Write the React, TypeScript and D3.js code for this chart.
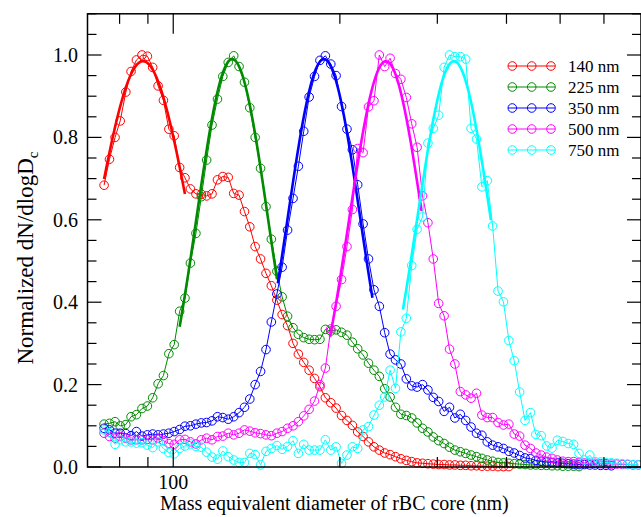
import React, { useRef, useEffect } from 'react';
import * as d3 from 'd3';

// bin mid diameters (nm), shared by all five size selections
const diameters = [
  75.0, 76.7, 78.5, 80.2, 82.1, 83.9, 85.8, 87.8, 89.8, 91.8,
  93.9, 96.0, 98.2, 100.4, 102.7, 105.0, 107.4, 109.9, 112.4, 114.9,
  117.5, 120.2, 122.9, 125.7, 128.6, 131.5, 134.5, 137.5, 140.6, 143.8,
  147.1, 150.4, 153.9, 157.3, 160.9, 164.6, 168.3, 172.1, 176.0, 180.0,
  184.1, 188.3, 192.6, 196.9, 201.4, 206.0, 210.7, 215.4, 220.3, 225.3,
  230.5, 235.7, 241.0, 246.5, 252.1, 257.8, 263.7, 269.7, 275.8, 282.1,
  288.5, 295.0, 301.7, 308.6, 315.6, 322.7, 330.1, 337.6, 345.2, 353.1,
  361.1, 369.3, 377.6, 386.2, 395.0, 404.0, 413.1, 422.5, 432.1, 441.9,
  451.9, 462.2, 472.7, 483.4, 494.4, 505.6, 517.1, 528.9, 540.9, 553.1,
  565.7, 578.5, 591.7, 605.1, 618.9, 632.9, 647.3, 662.0, 677.0, 692.4,
];

const red140 = [
  0.684, 0.747, 0.80, 0.84, 0.91, 0.96, 0.988, 1.0, 0.997, 0.97,
  0.925, 0.89, 0.82, 0.804, 0.727, 0.702, 0.675, 0.663, 0.662, 0.658,
  0.663, 0.697, 0.705, 0.703, 0.664, 0.66, 0.62, 0.583, 0.535, 0.505,
  0.47, 0.44, 0.405, 0.37, 0.343, 0.30, 0.274, 0.254, 0.235, 0.215,
  0.195, 0.168, 0.156, 0.143, 0.125, 0.113, 0.101, 0.085, 0.074, 0.061,
  0.049, 0.041, 0.034, 0.03, 0.025, 0.02, 0.016, 0.013, 0.01, 0.009,
  0.008, 0.007, 0.006, 0.006, 0.005, 0.005, 0.004, 0.004, 0.003, 0.003,
  0.002, 0.002, 0.002, 0.001, 0.001, 0.001,
];

const green225 = [
  0.104, 0.106, 0.11, 0.10, 0.103, 0.122, 0.127, 0.142, 0.148, 0.168,
  0.202, 0.222, 0.275, 0.297, 0.378, 0.41, 0.495, 0.567, 0.656, 0.745,
  0.83, 0.893, 0.948, 0.982, 0.998, 0.972, 0.934, 0.872, 0.80, 0.725,
  0.632, 0.553, 0.475, 0.413, 0.366, 0.338, 0.322, 0.314, 0.31, 0.309,
  0.31, 0.334, 0.33, 0.333, 0.327, 0.32, 0.303, 0.287, 0.272, 0.252,
  0.235, 0.22, 0.19, 0.17, 0.145, 0.128, 0.125, 0.119, 0.107, 0.094,
  0.085, 0.073, 0.064, 0.057, 0.048, 0.041, 0.037, 0.033, 0.029, 0.025,
  0.021, 0.017, 0.014, 0.011, 0.01, 0.009, 0.008, 0.007, 0.006, 0.005,
  0.005, 0.004, 0.004, 0.003, 0.003, 0.002, 0.002, 0.002, 0.001,
];

const blue350 = [
  0.094, 0.09, 0.082, 0.082, 0.081, 0.076, 0.086, 0.075, 0.078, 0.08,
  0.078, 0.08, 0.082, 0.086, 0.091, 0.099, 0.1, 0.104, 0.107, 0.108,
  0.112, 0.122, 0.12, 0.116, 0.122, 0.132, 0.145, 0.165, 0.2, 0.232,
  0.285, 0.352, 0.42, 0.485, 0.575, 0.652, 0.73, 0.815, 0.898, 0.948,
  0.987, 0.998, 0.978, 0.95, 0.875, 0.82, 0.77, 0.685, 0.59, 0.505,
  0.43, 0.39, 0.326, 0.274, 0.26, 0.25, 0.214, 0.197, 0.194, 0.2,
  0.187, 0.169, 0.159, 0.135, 0.145, 0.119, 0.128, 0.113, 0.097, 0.082,
  0.077, 0.061, 0.053, 0.049, 0.045, 0.038, 0.034, 0.028, 0.022, 0.02,
  0.016, 0.014, 0.012, 0.011, 0.01, 0.009, 0.008, 0.007, 0.006, 0.006,
  0.005, 0.005, 0.004, 0.004, 0.003,
];

const magenta500 = [
  0.082, 0.074, 0.07, 0.074, 0.07, 0.066, 0.066, 0.066, 0.067, 0.066,
  0.07, 0.064, 0.057, 0.055, 0.066, 0.067, 0.061, 0.056, 0.066, 0.07,
  0.066, 0.074, 0.075, 0.082, 0.078, 0.082, 0.09, 0.087, 0.083, 0.081,
  0.078, 0.076, 0.082, 0.086, 0.094, 0.1, 0.11, 0.124, 0.14, 0.16,
  0.2, 0.24, 0.335, 0.39, 0.455, 0.535, 0.625, 0.773, 0.763, 0.874,
  0.889, 1.0, 0.972, 0.992, 0.955, 0.941, 0.897, 0.833, 0.776, 0.658,
  0.593, 0.505, 0.397, 0.367, 0.286, 0.25, 0.183, 0.175, 0.167, 0.179,
  0.126, 0.12, 0.12, 0.108, 0.102, 0.104, 0.08, 0.075, 0.053, 0.045,
  0.034, 0.029, 0.024, 0.021, 0.017, 0.014, 0.013, 0.013, 0.011, 0.01,
  0.009, 0.009, 0.008, 0.008, 0.007, 0.007, 0.006, 0.006, 0.005, 0.005,
];

const cyan750 = [
  0.09, 0.083, 0.055, 0.066, 0.061, 0.061, 0.058, 0.059, 0.053, 0.047,
  0.061, 0.045, 0.035, 0.032, 0.045, 0.051, 0.056, 0.05, 0.048, 0.036,
  0.024, 0.019, 0.039, 0.025, 0.017, 0.011, 0.011, 0.033, 0.03, 0.005,
  0.038, 0.045, 0.052, 0.043, 0.05, 0.064, 0.033, 0.055, 0.041, 0.041,
  0.041, 0.066, 0.041, 0.049, 0.009, 0.029, 0.049, 0.045, 0.09, 0.098,
  0.126, 0.15, 0.17, 0.235, 0.191, 0.328, 0.361, 0.489, 0.577, 0.607,
  0.786, 0.822, 0.854, 0.97, 1.0, 0.996, 0.996, 0.99, 0.822, 0.796,
  0.68, 0.695, 0.585, 0.427, 0.401, 0.307, 0.258, 0.182, 0.113, 0.132,
  0.079, 0.076, 0.051, 0.046, 0.065, 0.062, 0.057, 0.055, 0.033, 0.017,
  0.029, 0.013, 0.012, 0.011, 0.01, 0.009, 0.008, 0.007, 0.006, 0.005,
];

const seriesNames = ['140 nm', '225 nm', '350 nm', '500 nm', '750 nm'];
const seriesColors = ['#ff0000', '#008b00', '#0000ff', '#ff00ff', '#00ffff'];
const seriesValues = [red140, green225, blue350, magenta500, cyan750];

// lognormal fits drawn as thick lines over the peaks
const fitCenters = [88.2, 127.8, 187.2, 242.3, 321.5]; // nm
const fitWidths = [0.085, 0.065, 0.066, 0.067, 0.067]; // sigma in log10 units
const fitPeaks = [0.985, 0.99, 0.99, 0.985, 0.985];
const fitFrom = [75, 102.7, 154.5, 192, 260];
const fitTo = [105, 154, 229, 281, 375];

const yTickLabels = ['0.0', '0.2', '0.4', '0.6', '0.8', '1.0'];
const xMajorTicks = [100];
const xMinorTicks = [80, 90, 200, 300, 400, 500, 600];

const App = () => {
  const svgRef = useRef(null);

  useEffect(() => {
    const svg = d3.select(svgRef.current);
    svg.selectAll('*').remove();
    const font = '"Liberation Serif", "Times New Roman", serif';

    const x = d3.scaleLog().domain([70, 700]).range([87.5, 641]);
    const y = d3.scaleLinear().domain([0, 1.1]).range([467, 13.8]);

    const line = d3.line<number>()
      .x((d, i) => x(diameters[i]))
      .y((d) => y(d));

    seriesValues.forEach((vals, k) => {
      const col = seriesColors[k];
      svg.append('path')
        .attr('d', line(vals))
        .attr('fill', 'none')
        .attr('stroke', col)
        .attr('stroke-width', 1);

      svg.append('g')
        .selectAll('circle')
        .data(vals)
        .join('circle')
        .attr('cx', (d, i) => x(diameters[i]))
        .attr('cy', (d) => y(d))
        .attr('r', 4.3)
        .attr('fill', 'none')
        .attr('stroke', col)
        .attr('stroke-width', 1);

      // fit curve
      const lo = Math.log10(fitFrom[k]);
      const hi = Math.log10(fitTo[k]);
      const c = Math.log10(fitCenters[k]);
      const pts = d3.range(0, 61).map((j) => {
        const ld = lo + (hi - lo) * j / 60;
        const v = fitPeaks[k] * Math.exp(-((ld - c) ** 2) / (2 * fitWidths[k] ** 2));
        return [x(10 ** ld), y(v)];
      });
      svg.append('path')
        .attr('d', d3.line()(pts as [number, number][]))
        .attr('fill', 'none')
        .attr('stroke', col)
        .attr('stroke-width', 2.6);
    });

    // frame
    const ax = svg.append('g').attr('stroke', '#000');
    ax.append('rect')
      .attr('x', 87.5).attr('y', 13.8)
      .attr('width', 641 - 87.5).attr('height', 467 - 13.8)
      .attr('fill', 'none').attr('stroke-width', 1.5);

    // y ticks
    const yMinor = d3.range(0, 1.1001, 0.05).filter((v) => Math.abs(v / 0.2 - Math.round(v / 0.2)) > 1e-6);
    const yMajor = d3.range(0, 6).map((i) => i * 0.2);
    yMinor.forEach((v) => {
      ax.append('line').attr('x1', 87.5).attr('x2', 96.5).attr('y1', y(v)).attr('y2', y(v)).attr('stroke-width', 1.2);
      ax.append('line').attr('x1', 641).attr('x2', 632).attr('y1', y(v)).attr('y2', y(v)).attr('stroke-width', 1.2);
    });
    yMajor.forEach((v) => {
      ax.append('line').attr('x1', 87.5).attr('x2', 101.5).attr('y1', y(v)).attr('y2', y(v)).attr('stroke-width', 1.2);
      ax.append('line').attr('x1', 641).attr('x2', 627).attr('y1', y(v)).attr('y2', y(v)).attr('stroke-width', 1.2);
    });
    svg.append('g')
      .selectAll('text')
      .data(yMajor)
      .join('text')
      .attr('x', 78)
      .attr('y', (d) => y(d) + 7)
      .attr('text-anchor', 'end')
      .attr('font-family', font)
      .attr('font-size', 20)
      .text((d, i) => yTickLabels[i]);

    // x ticks
    xMinorTicks.forEach((v) => {
      ax.append('line').attr('x1', x(v)).attr('x2', x(v)).attr('y1', 467).attr('y2', 457).attr('stroke-width', 1.2);
      ax.append('line').attr('x1', x(v)).attr('x2', x(v)).attr('y1', 13.8).attr('y2', 23.8).attr('stroke-width', 1.2);
    });
    xMajorTicks.forEach((v) => {
      ax.append('line').attr('x1', x(v)).attr('x2', x(v)).attr('y1', 467).attr('y2', 447).attr('stroke-width', 1.2);
      ax.append('line').attr('x1', x(v)).attr('x2', x(v)).attr('y1', 13.8).attr('y2', 33.8).attr('stroke-width', 1.2);
      svg.append('text')
        .attr('x', x(v))
        .attr('y', 489)
        .attr('text-anchor', 'middle')
        .attr('font-family', font)
        .attr('font-size', 20)
        .text(String(v));
    });

    // axis titles
    svg.append('text')
      .attr('x', 160)
      .attr('y', 510)
      .attr('font-family', font)
      .attr('font-size', 20)
      .text('Mass equivalent diameter of rBC core (nm)');

    const yt = svg.append('text')
      .attr('transform', 'translate(33,258) rotate(-90)')
      .attr('text-anchor', 'middle')
      .attr('font-family', font)
      .attr('font-size', 23);
    yt.append('tspan').text('Normalized dN/dlogD');
    yt.append('tspan').attr('font-size', 15).attr('dy', 5).text('c');

    // legend
    const rows = [66, 87, 108, 129, 150];
    const mk = [512.3, 531.7, 551];
    seriesNames.forEach((name, k) => {
      const g = svg.append('g');
      g.append('line')
        .attr('x1', 508).attr('x2', 555)
        .attr('y1', rows[k]).attr('y2', rows[k])
        .attr('stroke', seriesColors[k]).attr('stroke-width', 1);
      mk.forEach((mx) => {
        g.append('circle').attr('cx', mx).attr('cy', rows[k]).attr('r', 4.3)
          .attr('fill', 'none').attr('stroke', seriesColors[k]).attr('stroke-width', 1);
      });
      g.append('text')
        .attr('x', 568).attr('y', rows[k] + 5.5)
        .attr('font-family', font).attr('font-size', 17)
        .text(name);
    });
  }, []);

  return (
    <svg
      ref={svgRef}
      width={641}
      height={517}
      style={{ position: 'absolute', left: 0, top: 0, background: '#fff' }}
    />
  );
};

export default App;
